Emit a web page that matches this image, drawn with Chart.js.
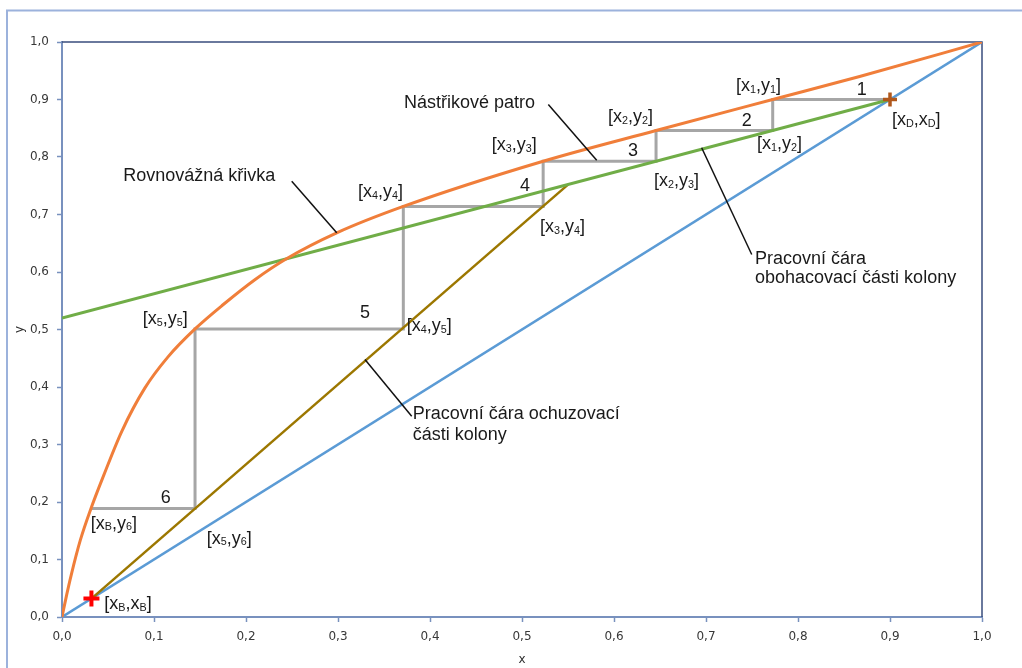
<!DOCTYPE html>
<html>
<head>
<meta charset="utf-8">
<script src="https://cdn.jsdelivr.net/npm/chart.js@4.4.1/dist/chart.umd.min.js"></script>
<style>
  html, body { margin: 0; padding: 0; background: #ffffff; }
  #wrap { width: 1022px; height: 668px; position: relative; }
</style>
</head>
<body>
<div id="wrap"><canvas id="c" width="1022" height="668"></canvas></div>
<script>
// McCabe–Thiele diagram: equilibrium curve, operating lines and theoretical stages

// Equilibrium curve y*(x)
const eqX = [0, 0.005, 0.01, 0.02, 0.0315, 0.045, 0.065, 0.09, 0.115, 0.1446, 0.175, 0.21, 0.244, 0.2986, 0.371, 0.523, 0.6457, 0.7725, 0.867, 1];
const eqY = [0, 0.038, 0.073, 0.134, 0.1887, 0.245, 0.323, 0.398, 0.452, 0.501, 0.543, 0.587, 0.623, 0.668, 0.714, 0.7926, 0.846, 0.900, 0.940, 1];

// Diagonal y = x
const diagX = [0, 1];
const diagY = [0, 1];

// Rectifying (enriching) operating line
const rectX = [0, 0.9];
const rectY = [0.52, 0.9];

// Stripping operating line
const stripX = [0.032, 0.5503];
const stripY = [0.032, 0.7523];

// Stage construction (staircase from x_D down to x_B)
const stepX = [0.9, 0.7725, 0.7725, 0.6457, 0.6457, 0.523, 0.523, 0.371, 0.371, 0.1446, 0.1446, 0.0315];
const stepY = [0.9, 0.9, 0.846, 0.846, 0.7926, 0.7926, 0.714, 0.714, 0.501, 0.501, 0.1887, 0.1887];

// Distillate and bottoms compositions
const xD = 0.9;
const xB = 0.032;

// Axis ticks
const tickValues = [0, 0.1, 0.2, 0.3, 0.4, 0.5, 0.6, 0.7, 0.8, 0.9, 1.0];
const tickLabels = ['0,0', '0,1', '0,2', '0,3', '0,4', '0,5', '0,6', '0,7', '0,8', '0,9', '1,0'];

const pts = (xs, ys) => xs.map((x, i) => ({ x, y: ys[i] }));

// Text annotations (positions in axis units); "_" marks a subscript character
const notes = [
  { t: 'Rovnovážná křivka', x: 0.0666, y: 0.7666 },
  { t: 'Nástřikové patro', x: 0.3717, y: 0.8943 },
  { t: 'Pracovní čára', x: 0.7533, y: 0.6230 },
  { t: 'obohacovací části kolony', x: 0.7533, y: 0.5890 },
  { t: 'Pracovní čára ochuzovací', x: 0.3812, y: 0.3522 },
  { t: 'části kolony', x: 0.3812, y: 0.3160 },
  { t: '[x_1,y_1]', x: 0.7326, y: 0.9231 },
  { t: '1', x: 0.8692, y: 0.9157, c: true },
  { t: '2', x: 0.7443, y: 0.8623, c: true },
  { t: '[x_D,x_D]', x: 0.9022, y: 0.8640 },
  { t: '[x_1,y_2]', x: 0.7554, y: 0.8217 },
  { t: '[x_2,y_3]', x: 0.6435, y: 0.7574 },
  { t: '[x_2,y_2]', x: 0.5935, y: 0.8687 },
  { t: '3', x: 0.6207, y: 0.8101, c: true },
  { t: '[x_3,y_3]', x: 0.4671, y: 0.8200 },
  { t: '4', x: 0.5032, y: 0.7492, c: true },
  { t: '[x_4,y_4]', x: 0.3217, y: 0.7388 },
  { t: '[x_3,y_4]', x: 0.5196, y: 0.6774 },
  { t: '5', x: 0.3293, y: 0.5278, c: true },
  { t: '[x_4,y_5]', x: 0.3747, y: 0.5057 },
  { t: '[x_5,y_5]', x: 0.0877, y: 0.5174 },
  { t: '6', x: 0.1127, y: 0.2073, c: true },
  { t: '[x_B,y_6]', x: 0.0312, y: 0.1621 },
  { t: '[x_5,y_6]', x: 0.1573, y: 0.1360 },
  { t: '[x_B,x_B]', x: 0.0459, y: 0.0217 }
];

// Leader lines from captions to curves (axis units)
const leaders = [
  [0.2497, 0.7579, 0.2986, 0.6682],
  [0.5286, 0.8913, 0.5812, 0.7944],
  [0.6953, 0.8160, 0.7497, 0.6304],
  [0.3293, 0.4478, 0.3801, 0.3492]
];

const FONT = '"Liberation Sans", Arial, sans-serif';
const AXIS_COLOR = '#7891BE';

function richWidth(ctx, str, size) {
  let w = 0;
  for (let i = 0; i < str.length; i++) {
    let ch = str[i], sub = false;
    if (ch === '_') { sub = true; ch = str[++i]; }
    ctx.font = (sub ? size * 0.6 : size) + 'px ' + FONT;
    w += ctx.measureText(ch).width;
  }
  return w;
}

function drawRich(ctx, str, x, y, size) {
  let cx = x;
  for (let i = 0; i < str.length; i++) {
    let ch = str[i], sub = false;
    if (ch === '_') { sub = true; ch = str[++i]; }
    ctx.font = (sub ? size * 0.6 : size) + 'px ' + FONT;
    ctx.fillText(ch, cx, y + (sub ? size * 0.2 : 0));
    cx += ctx.measureText(ch).width;
  }
}

const decor = {
  id: 'decor',
  beforeDraw(chart) {
    const ctx = chart.ctx;
    ctx.save();
    ctx.fillStyle = '#ffffff';
    ctx.fillRect(0, 0, chart.width, chart.height);
    ctx.strokeStyle = '#9CB2DC';
    ctx.lineWidth = 2;
    ctx.strokeRect(7, 10.5, chart.width + 20, chart.height + 20);
    ctx.restore();
  },
  beforeDatasetsDraw(chart) {
    const { ctx, chartArea: a } = chart;
    ctx.save();
    ctx.strokeStyle = '#3A4E7E';
    ctx.lineWidth = 1.5;
    ctx.beginPath();
    ctx.moveTo(a.left, a.top);
    ctx.lineTo(a.right, a.top);
    ctx.lineTo(a.right, a.bottom);
    ctx.stroke();
    ctx.restore();
  },
  afterDatasetsDraw(chart) {
    const ctx = chart.ctx;
    const sx = chart.scales.x, sy = chart.scales.y;
    ctx.save();
    ctx.strokeStyle = '#111111';
    ctx.lineWidth = 1.5;
    leaders.forEach(([x1, y1, x2, y2]) => {
      ctx.beginPath();
      ctx.moveTo(sx.getPixelForValue(x1), sy.getPixelForValue(y1));
      ctx.lineTo(sx.getPixelForValue(x2), sy.getPixelForValue(y2));
      ctx.stroke();
    });
    ctx.fillStyle = '#1a1a1a';
    ctx.textBaseline = 'middle';
    ctx.textAlign = 'left';
    const size = 18;
    notes.forEach(n => {
      let px = sx.getPixelForValue(n.x);
      const py = sy.getPixelForValue(n.y);
      if (n.c) px -= richWidth(ctx, n.t, size) / 2;
      drawRich(ctx, n.t, px, py, size);
    });
    ctx.restore();
  }
};

const tickFont = { family: '"DejaVu Sans", Verdana, sans-serif', size: 12 };
const fmt = v => {
  const i = tickValues.findIndex(t => Math.abs(t - v) < 1e-6);
  return i >= 0 ? tickLabels[i] : '';
};

new Chart(document.getElementById('c'), {
  type: 'scatter',
  data: {
    datasets: [
      { label: 'Stupně', data: pts(stepX, stepY), showLine: true, borderColor: '#A6A6A6', borderWidth: 3, pointRadius: 0, order: 6 },
      { label: 'y = x', data: pts(diagX, diagY), showLine: true, borderColor: '#5B9BD5', borderWidth: 2.5, pointRadius: 0, order: 5 },
      { label: 'Pracovní čára ochuzovací části', data: pts(stripX, stripY), showLine: true, borderColor: '#9C7700', borderWidth: 2.5, pointRadius: 0, order: 4 },
      { label: 'Pracovní čára obohacovací části', data: pts(rectX, rectY), showLine: true, borderColor: '#70AD47', borderWidth: 3, pointRadius: 0, order: 3 },
      { label: 'Rovnovážná křivka', data: pts(eqX, eqY), showLine: true, borderColor: '#F07E3A', borderWidth: 3, pointRadius: 0, cubicInterpolationMode: 'monotone', order: 2 },
      { label: 'x_B', data: [{ x: xB, y: xB }], pointStyle: 'cross', pointRadius: 8, pointBorderWidth: 4, borderColor: '#FF0000', backgroundColor: '#FF0000', order: 1 },
      { label: 'x_D', data: [{ x: xD, y: xD }], pointStyle: 'cross', pointRadius: 7, pointBorderWidth: 3.5, borderColor: '#B0581C', backgroundColor: '#B0581C', order: 1 }
    ]
  },
  options: {
    responsive: false,
    animation: false,
    events: [],
    layout: { padding: { left: 0, top: 42, right: 40, bottom: 0 } },
    plugins: { legend: { display: false }, tooltip: { enabled: false } },
    scales: {
      x: {
        type: 'linear', min: 0, max: 1,
        afterFit: s => { s.height = 51; },
        afterBuildTicks: s => { s.ticks = tickValues.map(v => ({ value: v })); },
        ticks: { callback: fmt, font: tickFont, color: '#383838', padding: 8, maxRotation: 0 },
        grid: { drawOnChartArea: false, drawTicks: true, tickLength: 5, tickColor: AXIS_COLOR, tickWidth: 1.5 },
        border: { color: AXIS_COLOR, width: 2 },
        title: { display: true, text: 'x', font: { family: '"DejaVu Sans", Verdana, sans-serif', size: 12 }, color: '#303030', padding: { top: 0, bottom: 1 } }
      },
      y: {
        type: 'linear', min: 0, max: 1,
        afterFit: s => { s.width = 62; },
        afterBuildTicks: s => { s.ticks = tickValues.map(v => ({ value: v })); },
        ticks: { callback: fmt, font: tickFont, color: '#383838', padding: 8 },
        grid: { drawOnChartArea: false, drawTicks: true, tickLength: 5, tickColor: AXIS_COLOR, tickWidth: 1.5 },
        border: { color: AXIS_COLOR, width: 2 },
        title: { display: true, text: 'y', font: { family: '"DejaVu Sans", Verdana, sans-serif', size: 12 }, color: '#303030', padding: { top: 13, bottom: 0 } }
      }
    }
  },
  plugins: [decor]
});
</script>
</body>
</html>
